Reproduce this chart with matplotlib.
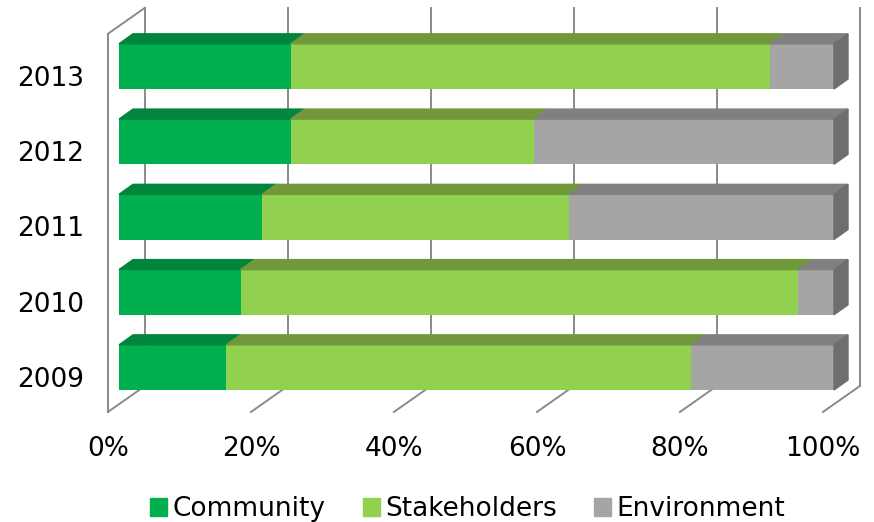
import matplotlib.pyplot as plt
from matplotlib.patches import Polygon, Patch

# donnees
years = ['2009', '2010', '2011', '2012', '2013']
community = [15, 17, 20, 24, 24]
stakeholders = [65, 78, 43, 34, 67]
environment = [20, 5, 37, 42, 9]
series = ['Community', 'Stakeholders', 'Environment']
ticks = [0, 20, 40, 60, 80, 100]
tick_labels = ['0%', '20%', '40%', '60%', '80%', '100%']

# couleurs (face avant, dessus, cote)
front = ['#00B050', '#92D050', '#A5A5A5']
top = ['#00853D', '#71993B', '#808080']
side = '#6E6E6E'
grid_col = '#8A8A8A'

# profondeur (effet 3D)
bdx, bdy = 1.96, 0.133      # epaisseur des barres
gdx, gdy = 3.64, 0.24       # plan du fond
fdx, fdy = -1.54, -0.106    # plan avant
ylo, yhi = -0.485, 4.54
h = 0.6

fig = plt.figure(figsize=(8.74, 5.22), dpi=100)
ax = fig.add_axes([0.1116, 0.1663, 0.8999, 0.829])
ax.set_xlim(-3, 107)
ax.set_ylim(-0.9, 4.85)

# murs et grille
for t in ticks:
    ax.plot([t + gdx, t + gdx], [ylo + gdy, yhi + gdy], color=grid_col, lw=1.4, zorder=1)
    ax.plot([t + fdx, t + gdx], [ylo + fdy, ylo + gdy], color=grid_col, lw=1.4, zorder=1)
ax.plot([fdx, fdx], [ylo + fdy, yhi + fdy], color=grid_col, lw=1.4, zorder=1)
ax.plot([fdx, gdx], [yhi + fdy, yhi + gdy], color=grid_col, lw=1.4, zorder=1)

# barres
y = list(range(len(years)))
data = [community, stakeholders, environment]
left = [0] * len(years)
for k in range(3):
    vals = data[k]
    ax.barh(y, vals, left=left, height=h, color=front[k], zorder=3, label=series[k])
    for i in y:
        a = left[i]
        b = left[i] + vals[i]
        t = i + h / 2
        ax.add_patch(Polygon([(a, t), (b, t), (b + bdx, t + bdy), (a + bdx, t + bdy)],
                             closed=True, color=top[k], zorder=3))
        if k == 2:
            ax.add_patch(Polygon([(b, i - h / 2), (b, t), (b + bdx, t + bdy), (b + bdx, i - h / 2 + bdy)],
                                 closed=True, color=side, zorder=3))
    left = [left[i] + vals[i] for i in y]

ax.set_xticks([t + fdx for t in ticks])
ax.set_xticklabels(tick_labels)
ax.set_yticks([i - 0.126 for i in y])
ax.set_yticklabels(years)
ax.tick_params(axis='x', length=0, pad=0.5, labelsize=19)
ax.tick_params(axis='y', length=0, pad=10, labelsize=19)
for s in ax.spines.values():
    s.set_visible(False)

handles = [Patch(color=front[k]) for k in range(3)]
fig.legend(handles, series, loc='center', bbox_to_anchor=(0.535, 13 / 522), ncol=3,
           frameon=False, fontsize=19, handlelength=0.65, handleheight=0.65,
           handletextpad=0.2, columnspacing=1.4, borderaxespad=0, borderpad=0)

plt.savefig('out.png', dpi=100)
